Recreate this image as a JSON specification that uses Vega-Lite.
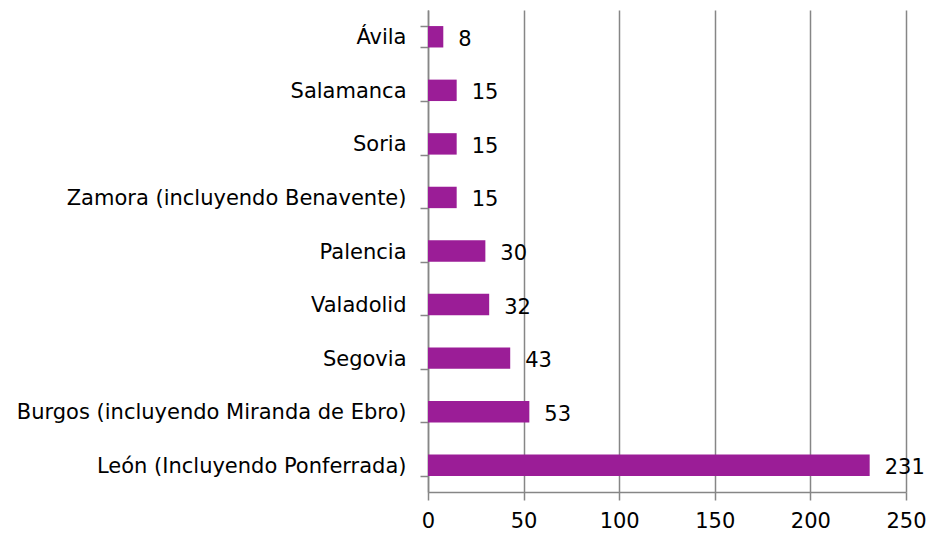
{
  "$schema": "https://vega.github.io/schema/vega-lite/v6.json",
  "width": 478,
  "height": 482,
  "autosize": {"type": "none"},
  "padding": {"left": 428, "top": 10, "right": 23, "bottom": 45},
  "background": "white",
  "config": {"view": {"stroke": null}, "font": "DejaVu Sans"},
  "data": {"values": [
    {"ciudad": "Ávila", "n": 8},
    {"ciudad": "Salamanca", "n": 15},
    {"ciudad": "Soria", "n": 15},
    {"ciudad": "Zamora (incluyendo Benavente)", "n": 15},
    {"ciudad": "Palencia", "n": 30},
    {"ciudad": "Valadolid", "n": 32},
    {"ciudad": "Segovia", "n": 43},
    {"ciudad": "Burgos (incluyendo Miranda de Ebro)", "n": 53},
    {"ciudad": "León (Incluyendo Ponferrada)", "n": 231}
  ]},
  "encoding": {
    "y": {"field": "ciudad", "type": "nominal", "sort": null,
      "scale": {"paddingInner": 0.6, "paddingOuter": 0.3},
      "axis": {"title": null, "labelFontSize": 21, "labelColor": "black", "labelPadding": 14, "labelOffset": 1,
        "domainColor": "#868686", "domainWidth": 1.5, "tickColor": "#868686", "tickWidth": 1.5,
        "tickSize": 8, "tickBand": "extent", "labelLimit": 500}},
    "x": {"field": "n", "type": "quantitative",
      "scale": {"domain": [0, 250], "nice": false},
      "axis": {"title": null, "values": [0, 50, 100, 150, 200, 250], "labelFontSize": 21, "labelColor": "black",
        "labelPadding": 10, "domainColor": "#868686", "domainWidth": 1.5, "tickColor": "#868686",
        "tickWidth": 1.5, "tickSize": 8, "gridColor": "#868686", "gridWidth": 1.5, "labelFlush": false}}
  },
  "layer": [
    {"mark": {"type": "bar", "color": "#9B1D97"}},
    {"mark": {"type": "text", "align": "left", "dx": 15, "dy": 3, "fontSize": 21, "color": "black"},
      "encoding": {"text": {"field": "n", "type": "quantitative"}}}
  ]
}
